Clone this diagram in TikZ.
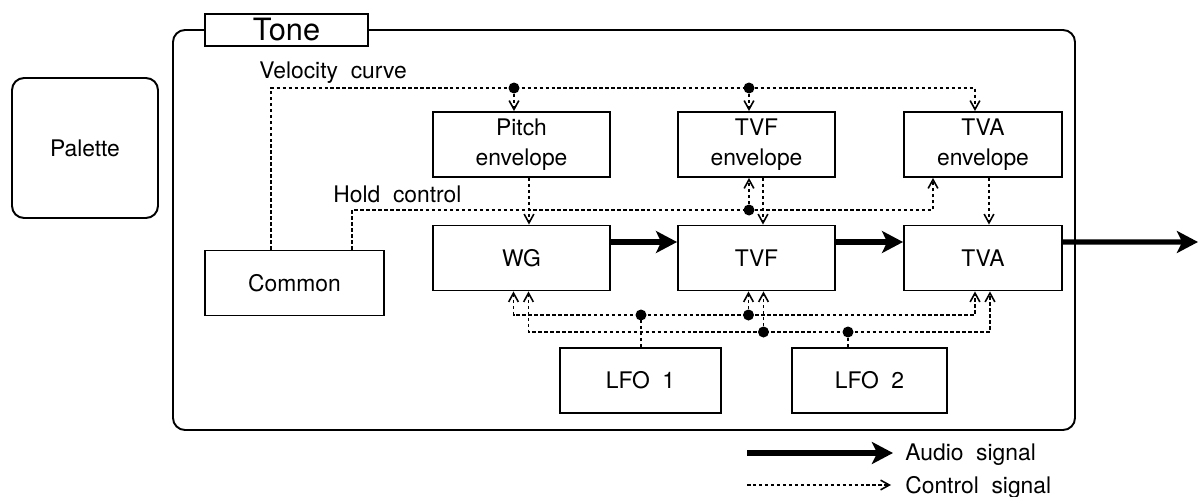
\documentclass[tikz,border=0pt]{standalone}
\usepackage{fontspec}
\setmainfont[WordSpace=2]{TeX Gyre Heros}
\usetikzlibrary{arrows.meta, positioning}

\begin{document}
\begin{tikzpicture}[
  x=0.02cm, y=-0.02cm,
  >={Straight Barb[length=5pt, width=5.5pt, line width=0.9pt]},
  box/.style={draw, line width=1.1pt, minimum height=1.3cm,
              font=\fontsize{13}{17}\selectfont, align=center},
  lbl/.style={inner sep=0pt, font=\fontsize{13}{17}\selectfont},
  ctl/.style={line width=0.9pt, dash pattern=on 2pt off 1.4pt},
  aud/.style={line width=2.9pt, -{Stealth[length=12pt, width=12.5pt, inset=3pt]}},
]
  \useasboundingbox (0,0) rectangle (1198,497);

  % tone frame
  \draw[line width=1.1pt, rounded corners=0.24cm] (173,30) rectangle (1075,430);
  \node[draw, fill=white, line width=1.1pt, minimum width=3.26cm, minimum height=0.64cm,
        inner sep=0pt, font=\fontsize{17.5}{20}\selectfont] (tonelbl) at (286.5,30) {Tone};

  \node[box, rounded corners=0.24cm, minimum width=2.92cm, minimum height=2.8cm] (palette) at (85,148) {Palette};

  \node[box, minimum width=3.58cm] (common)   at (294.5,283)   {Common};
  \node[box, minimum width=3.54cm] (pitchenv) at (521.5,144.5) {Pitch\\envelope};
  \node[box, minimum width=3.14cm] (tvfenv)   at (756.5,144.5) {TVF\\envelope};
  \node[box, minimum width=3.16cm] (tvaenv)   at (983,144.5)   {TVA\\envelope};
  \node[box, minimum width=3.54cm] (wg)       at (521.5,258)   {WG};
  \node[box, minimum width=3.14cm] (tvf)      at (756.5,258)   {TVF};
  \node[box, minimum width=3.16cm] (tva)      at (983,258)     {TVA};
  \node[box, minimum width=3.22cm] (lfo1)     at (640.5,380.5) {LFO 1};
  \node[box, minimum width=3.1cm]  (lfo2)     at (869.5,380.5) {LFO 2};

  \node[lbl, anchor=base west] (velcurve) at (259,78)  {Velocity curve};
  \node[lbl, anchor=base west] (holdctl)  at (333,202) {Hold control};

  % velocity curve
  \coordinate (v1) at (514,88);
  \coordinate (v2) at (749,88);
  \draw[ctl,->] ([xshift=-0.47cm]common.north) |- (v1) -- (v2) -| ([xshift=-0.16cm]tvaenv.north);
  \draw[ctl,->] (v1) -- (v1 |- pitchenv.north);
  \draw[ctl,->] (v2) -- (v2 |- tvfenv.north);

  % hold control
  \coordinate (h1) at (749,210);
  \draw[ctl,->] ([xshift=1.15cm]common.north) |- (h1) -| ([xshift=-1cm]tvaenv.south);
  \draw[ctl,->] (h1) -- (h1 |- tvfenv.south);

  \draw[ctl,->] ([xshift=0.15cm]pitchenv.south) -- ([xshift=0.15cm]wg.north);
  \draw[ctl,->] ([xshift=0.13cm]tvfenv.south)   -- ([xshift=0.13cm]tvf.north);
  \draw[ctl,->] ([xshift=0.12cm]tvaenv.south)   -- ([xshift=0.12cm]tva.north);

  % audio path
  \coordinate (audout) at (1198,242);
  \draw[aud] ([yshift=0.32cm]wg.east)  -- ([yshift=0.32cm]tvf.west);
  \draw[aud] ([yshift=0.32cm]tvf.east) -- ([yshift=0.32cm]tva.west);
  \draw[aud] ([yshift=0.32cm]tva.east) -- (audout);

  % lfo buses
  \coordinate (a1) at (641,315);
  \coordinate (a2) at (748.5,315);
  \coordinate (b1) at (763.5,332);
  \coordinate (b2) at (848,332);
  \draw[ctl,<->] ([xshift=-0.16cm]wg.south) |- (a1) -- (a2) -| ([xshift=-0.16cm]tva.south);
  \draw[ctl,->] (a2) -- (a2 |- tvf.south);
  \draw[ctl] (lfo1.north -| a1) -- (a1);
  \draw[ctl,<->] ([xshift=0.14cm]wg.south) |- (b1) -- (b2) -| ([xshift=0.14cm]tva.south);
  \draw[ctl,->] (b1) -- (b1 |- tvf.south);
  \draw[ctl] (lfo2.north -| b2) -- (b2);

  \foreach \p in {v1,v2,h1,a1,a2,b1,b2}
    \fill (\p) circle (5.5);

  % legend
  \node[lbl, anchor=west] (audlbl) at (905,455) {Audio signal};
  \node[lbl, anchor=west] (ctllbl) at (905,487) {Control signal};
  \coordinate (audtail) at (747,453);
  \coordinate (ctltail) at (747,485);
  \draw[aud] (audtail) -- ([xshift=-0.24cm]audlbl.west |- audtail);
  \draw[ctl,->] (ctltail) -- ([xshift=-0.28cm]ctllbl.west |- ctltail);
\end{tikzpicture}
\end{document}
